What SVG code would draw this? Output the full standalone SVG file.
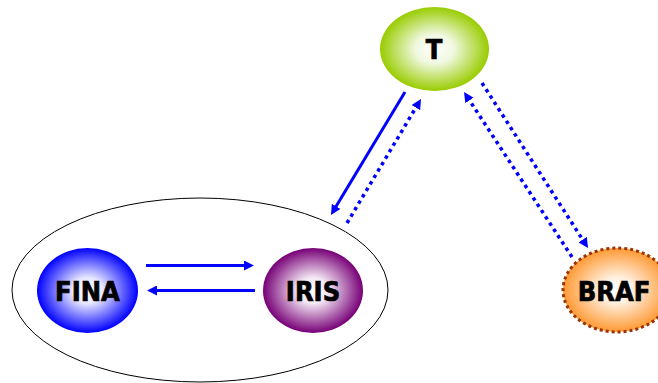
<svg xmlns="http://www.w3.org/2000/svg" width="658" height="383" viewBox="0 0 658 383">
<defs>
<radialGradient id="gT" cx="50%" cy="50%" r="50%"><stop offset="0" stop-color="#ffffff"/><stop offset="0.35" stop-color="#f0f8e0"/><stop offset="1" stop-color="#99cc00"/></radialGradient>
<radialGradient id="gB" cx="50%" cy="50%" r="50%"><stop offset="0" stop-color="#ffffff"/><stop offset="0.3" stop-color="#fff0e0"/><stop offset="1" stop-color="#ff9933"/></radialGradient>
<radialGradient id="gF" cx="50%" cy="50%" r="50%"><stop offset="0" stop-color="#ffffff"/><stop offset="0.3" stop-color="#e8e8ff"/><stop offset="1" stop-color="#0000ff"/></radialGradient>
<radialGradient id="gI" cx="50%" cy="50%" r="50%"><stop offset="0" stop-color="#ffffff"/><stop offset="0.3" stop-color="#f4e8f4"/><stop offset="1" stop-color="#770077"/></radialGradient>
<marker id="ah" markerUnits="userSpaceOnUse" markerWidth="10" markerHeight="10" refX="2" refY="5" orient="auto"><path d="M0,0 L10,5 L0,10 z" fill="#0000ff"/></marker>
</defs>
<style>
.lbl{font-family:"DejaVu Sans Condensed","DejaVu Sans",Verdana,sans-serif;font-weight:bold;font-size:27px;fill:#000;stroke:#000;stroke-width:0.7;text-anchor:middle}
.c{fill:none;stroke:#0000ff;stroke-width:3;marker-end:url(#ah)}
.dot{stroke-width:3.5;stroke-dasharray:3.5 4}
</style>
<g id="group-FINA-IRIS">
<ellipse cx="200" cy="290" rx="188" ry="92" fill="none" stroke="#000" stroke-width="1"/>
</g>
<g id="node-T">
<ellipse cx="434.5" cy="49" rx="54.5" ry="42" fill="url(#gT)"/>
<text class="lbl" x="434" y="59">T</text>
</g>
<g id="node-BRAF">
<ellipse cx="617" cy="290" rx="54" ry="42" fill="url(#gB)" stroke="#993300" stroke-width="3" stroke-dasharray="3 3"/>
<text class="lbl" x="614" y="301">BRAF</text>
</g>
<g id="node-FINA">
<ellipse cx="87.5" cy="290.5" rx="50.5" ry="42.5" fill="url(#gF)"/>
<text class="lbl" x="87.5" y="301">FINA</text>
</g>
<g id="node-IRIS">
<ellipse cx="313" cy="290.5" rx="50" ry="42.5" fill="url(#gI)"/>
<text class="lbl" x="313" y="301">IRIS</text>
</g>
<g id="connectors">
<line class="c" x1="146" y1="265.5" x2="246" y2="265.5"/>
<line class="c" x1="255" y1="290.5" x2="155" y2="290.5"/>
<line class="c" x1="405" y1="92" x2="335.1" y2="208.1"/>
<line class="c dot" x1="347" y1="223" x2="416.9" y2="105.9"/>
<line class="c dot" x1="482" y1="83" x2="583.7" y2="241.3"/>
<line class="c dot" x1="572" y1="257" x2="468.4" y2="98.7"/>
</g>
</svg>
